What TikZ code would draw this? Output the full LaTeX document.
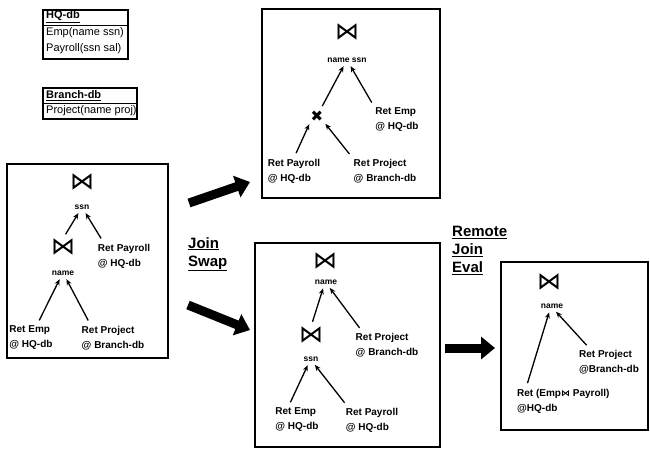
\documentclass[tikz,border=0pt]{standalone}
\usepackage{fontspec}
\setmainfont{Liberation Sans}
\newfontfamily\symfont{DejaVu Sans}
\usetikzlibrary{arrows.meta}

\tikzset{
  frame/.style={draw, line width=1.3pt},
  joinop/.style={inner sep=0pt, font=\symfont\fontsize{24}{24}\selectfont},
  attr/.style={inner sep=1pt, font=\fontsize{8.5}{9}\selectfont\bfseries},
  leaf/.style={inner sep=1pt, align=left, font=\fontsize{10}{15}\selectfont\bfseries},
  tr/.style={-{Stealth[length=6pt,width=5pt]}, line width=1.3pt, shorten <=5pt, shorten >=3pt},
  fat/.style={line width=9pt, -{Triangle[length=14pt,width=22pt]}},
  tbl/.style={font=\fontsize{11}{12}\selectfont, inner sep=1pt, anchor=west},
  hdr/.style={font=\fontsize{11}{12}\selectfont\bfseries, inner sep=1pt, anchor=west},
  rule/.style={inner sep=1pt, align=left, anchor=north west, font=\fontsize{15}{18}\selectfont\bfseries}
}
\newcommand{\joinsym}{{\symfont ⋈}}

\begin{document}
\begin{tikzpicture}[x=1pt,y=-1pt]
  \useasboundingbox (0,0) rectangle (650,448);
  % schema tables
  \draw[frame] (43,10) rectangle (128,59);
  \draw[line width=1pt] (43,25) -- (128,25);
  \node[hdr] (hq) at (45,17) {\underline{HQ-db}};
  \node[tbl] (emp) at (45,33) {Emp(name ssn)};
  \node[tbl] (pay) at (45,49) {Payroll(ssn sal)};
  \draw[frame] (43,88) rectangle (137,119);
  \draw[line width=1pt] (43,103) -- (137,103);
  \node[hdr] (br) at (45,96) {\underline{Branch-db}};
  \node[tbl] (proj) at (45,111) {Project(name proj)};

  % initial plan
  \draw[frame] (7,164) rectangle (168,358);
  \node[joinop] (a1) at (82,182) {\joinsym};
  \node[attr] (a1a) at (82,207) {ssn};
  \node[joinop] (a2) at (63,247) {\joinsym};
  \node[attr] (a2a) at (63,273) {name};
  \node[leaf] (apay) at (124,256) {Ret Payroll\\ @ HQ-db};
  \node[leaf] (aemp) at (31,338) {Ret Emp\\ @ HQ-db};
  \node[leaf] (aproj) at (113,338) {Ret Project\\ @ Branch-db};
  \draw[tr] (a2.north) -- (a1a.-120);
  \draw[tr] ([xshift=7pt]apay.north west) -- (a1a.-60);
  \draw[tr] ([xshift=6pt]aemp.north) -- (a2a.-120);
  \draw[tr] ([xshift=10pt]aproj.north west) -- (a2a.-60);

  % upper alternative
  \draw[frame] (262,9) rectangle (440,198);
  \node[joinop] (b1) at (347,32) {\joinsym};
  \node[attr] (b1a) at (347,60) {name ssn};
  \node[inner sep=0pt, font=\symfont\fontsize{15}{15}\selectfont] (bx) at (317,116) {✖};
  \node[leaf] (bemp) at (397,120) {Ret Emp\\ @ HQ-db};
  \node[leaf] (bpay) at (294,171) {Ret Payroll\\ @ HQ-db};
  \node[leaf] (bproj) at (385,171) {Ret Project\\ @ Branch-db};
  \draw[tr] (bx) -- (b1a.-120);
  \draw[tr] (bemp.north west) -- (b1a.-60);
  \draw[tr] (bpay.north) -- (bx.south west);
  \draw[tr] (bproj.north west) -- (bx.south east);

  % lower alternative
  \draw[frame] (255,243) rectangle (440,447);
  \node[joinop] (c1) at (325,261) {\joinsym};
  \node[attr] (c1a) at (326,282) {name};
  \node[joinop] (c2) at (311,335) {\joinsym};
  \node[attr] (c2a) at (311,359) {ssn};
  \node[leaf] (cproj) at (387,345) {Ret Project\\ @ Branch-db};
  \node[leaf] (cemp) at (297,420) {Ret Emp\\ @ HQ-db};
  \node[leaf] (cpay) at (372,420) {Ret Payroll\\ @ HQ-db};
  \draw[tr] (c2.north) -- (c1a.-120);
  \draw[tr] ([xshift=8pt]cproj.north west) -- (c1a.-60);
  \draw[tr] ([xshift=14pt]cemp.north west) -- (c2a.-120);
  \draw[tr] ([xshift=3pt]cpay.north west) -- (c2a.-60);

  % remote join
  \draw[frame] (501,262) rectangle (648,430);
  \node[joinop] (d1) at (549,282) {\joinsym};
  \node[attr] (d1a) at (552,306) {name};
  \node[leaf] (dproj) at (609,362) {Ret Project\\ @Branch-db};
  \node[leaf, anchor=north west] (demp) at (516,388) {Ret (Emp{\symfont\fontsize{9}{9}\selectfont ⋈} Payroll)\\ @HQ-db};
  \draw[tr] ([xshift=10pt]demp.north west) -- (d1a.-120);
  \draw[tr] ([xshift=12pt]dproj.north west) -- (d1a.-60);

  % transformation arrows
  \coordinate (s1) at (189,203);
  \coordinate (t1) at (250,182);
  \coordinate (s2) at (188,305);
  \coordinate (t2) at (250,330);
  \coordinate (s3) at (445,348);
  \coordinate (t3) at (495,348);
  \draw[fat] (s1) -- (t1);
  \draw[fat] (s2) -- (t2);
  \draw[fat] (s3) -- (t3);
  \node[rule] (swap) at (187,236) {\underline{Join}\\ \underline{Swap}};
  \node[rule] (remote) at (451,225) {\underline{Remote}\\ \underline{Join}\\ \underline{Eval}};
\end{tikzpicture}
\end{document}
